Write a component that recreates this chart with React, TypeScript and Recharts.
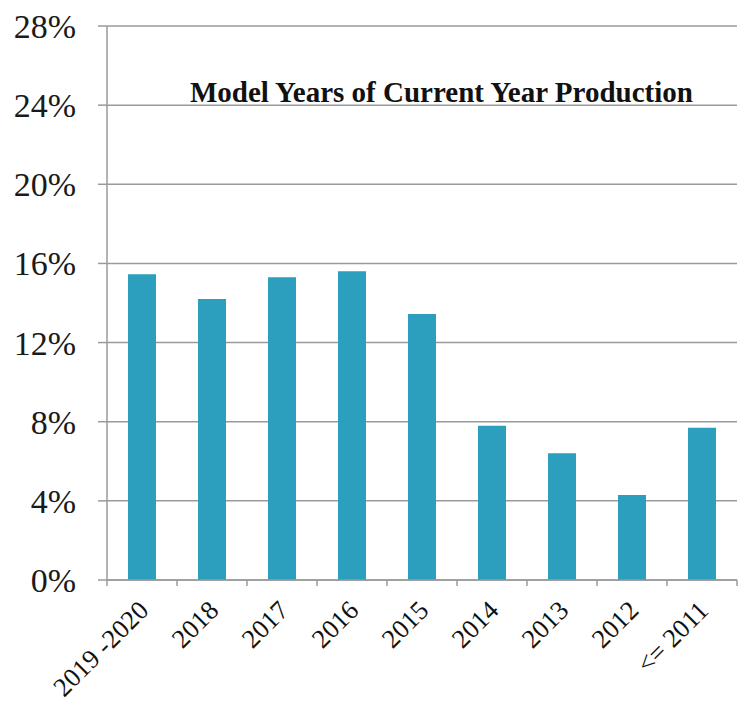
import React from "react";
import { BarChart, Bar, XAxis, YAxis, CartesianGrid } from "recharts";

const categories = ["2019 -2020", "2018", "2017", "2016", "2015", "2014", "2013", "2012", "<= 2011"];
const shares = [15.45, 14.2, 15.3, 15.6, 13.45, 7.8, 6.4, 4.3, 7.7];
const yTicks = [0, 4, 8, 12, 16, 20, 24, 28];
const title = "Model Years of Current Year Production";

const data = categories.map((name, i) => ({ name, share: shares[i] }));

const BAND = 70; // width of one category slot in px

const XTick = (props: any) => {
  const { x, y, payload, index } = props;
  const last = index === categories.length - 1;
  return (
    <g>
      <line x1={x - BAND / 2} y1={y - 8} x2={x - BAND / 2} y2={y - 2} stroke="#9a9a9a" strokeWidth={1.5} />
      {last && (
        <line x1={x + BAND / 2} y1={y - 8} x2={x + BAND / 2} y2={y - 2} stroke="#9a9a9a" strokeWidth={1.5} />
      )}
      <text
        x={x + 8}
        y={y + 24}
        transform={`rotate(-45, ${x + 8}, ${y + 24})`}
        textAnchor="end"
        fontFamily="'Liberation Serif', serif"
        fontSize={26.5}
        fill="#111"
      >
        {payload.value}
      </text>
    </g>
  );
};

export default function App() {
  return (
    <div style={{ position: "absolute", left: 0, top: 0, width: 743, height: 704, background: "#fff" }}>
      <BarChart
        width={743}
        height={704}
        data={data}
        margin={{ top: 26, right: 6, left: 0, bottom: 0 }}
        barCategoryGap="30%"
      >
        <CartesianGrid vertical={false} stroke="#9a9a9a" strokeWidth={1.5} />
        <XAxis
          dataKey="name"
          height={124}
          tickLine={false}
          axisLine={{ stroke: "#9a9a9a", strokeWidth: 1.5 }}
          tick={<XTick />}
          interval={0}
        />
        <YAxis
          width={107}
          domain={[0, 28]}
          ticks={yTicks}
          tickSize={9}
          tickMargin={22}
          tickFormatter={(v: number) => `${v}%`}
          tickLine={{ stroke: "#9a9a9a", strokeWidth: 1.5 }}
          axisLine={{ stroke: "#9a9a9a", strokeWidth: 1.5 }}
          tick={{ fontFamily: "'Liberation Serif', serif", fontSize: 34, fill: "#1a1a1a" }}
        />
        <Bar dataKey="share" fill="#2b9fbd" barSize={28} isAnimationActive={false} />
      </BarChart>
      <div
        style={{
          position: "absolute",
          left: 190,
          top: 76,
          fontFamily: "'Liberation Serif', serif",
          fontWeight: "bold",
          fontSize: 29,
          lineHeight: "32px",
          color: "#111",
          whiteSpace: "nowrap",
        }}
      >
        {title}
      </div>
    </div>
  );
}
